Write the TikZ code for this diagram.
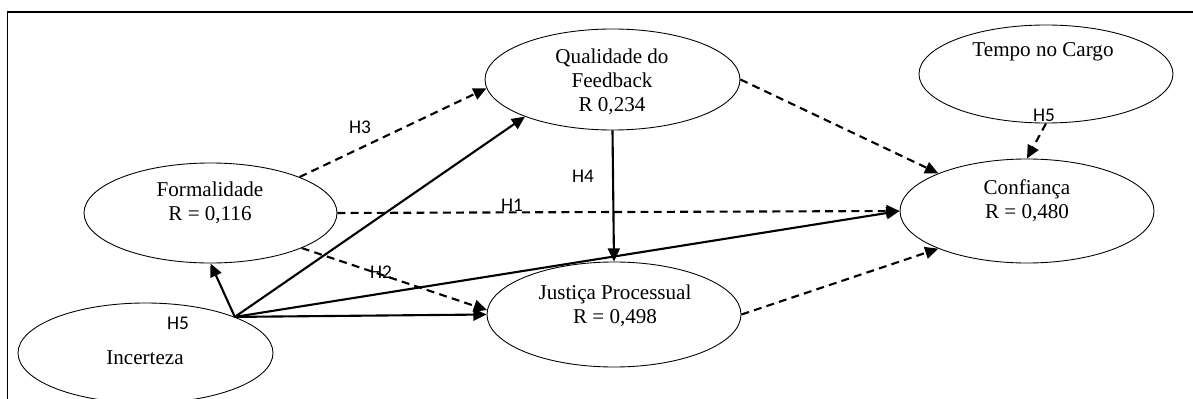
\documentclass[tikz,border=0pt]{standalone}
\usepackage{fontspec}
\setmainfont{Liberation Serif}
\newfontfamily\hypfont{Carlito}
\usetikzlibrary{arrows.meta,shapes,positioning,calc}

\begin{document}
\begin{tikzpicture}[
    construct/.style={ellipse, draw, line width=0.5pt, minimum width=5.08cm,
                      minimum height=2cm, inner sep=0pt},
    ctext/.style={align=center, inner sep=0pt, font=\fontsize{12}{13.6}\selectfont},
    hyp/.style={inner sep=0pt, font=\hypfont\fontsize{11}{13}\selectfont},
    link/.style={-{Triangle[length=7.5pt, width=6.8pt]}, line width=1.2pt},
    dlink/.style={link, dash pattern=on 4.5pt off 3pt}
]
    \useasboundingbox (0,0) rectangle (23.86,7.96);
    \clip (0,0) rectangle (23.86,7.96);

    % Frame
    \draw[line width=1pt] (0.15,-0.5) -- (0.15,7.72) -- (24.5,7.72);

    % Constructs
    \node[construct, minimum width=5.1cm, minimum height=2.02cm] (qual) at (12.25, 6.37) {};
    \node[construct, minimum height=1.96cm] (tempo) at (20.92, 6.48) {};
    \node[construct, minimum width=5.06cm] (form) at (4.21, 3.70) {};
    \node[construct, minimum width=5.1cm] (inc) at (2.91, 0.90) {};
    \node[construct, minimum height=2.1cm] (just) at (12.28, 1.67) {};
    \node[construct, minimum height=2.08cm] (conf) at (20.54, 3.74) {};

    % Texts
    \node[ctext] (qualtxt) at (12.24, 6.32) {Qualidade do\\Feedback\\R 0,234};
    \node[ctext] (tempotxt) at (20.86, 6.92) {Tempo no Cargo};
    \node[ctext] (formtxt) at (4.2, 3.9) {Formalidade\\R = 0,116};
    \node[ctext] (inctxt) at (2.9, 0.8) {Incerteza};
    \node[ctext] (justtxt) at (12.3, 1.85) {Justiça Processual\\R = 0,498};
    \node[ctext] (conftxt) at (20.54, 3.95) {Confiança\\R = 0,480};

    % Paths
    \coordinate (hub) at (inc.22);
    \draw[dlink] (form.22) -- (qual.184);
    \draw[dlink] (form.east) -- (conf.west);
    \draw[dlink] (form.-21) -- (just.178);
    \draw[dlink] (qual.east) -- (conf.157);
    \draw[dlink] (tempo.south) -- (conf.north);
    \draw[dlink] (just.east) -- (conf.-157);
    \draw[link] (qual.south) -- (just.north);
    \draw[link] (hub) -- (form.south);
    \draw[link] (hub) -- (qual.203);
    \draw[link] (hub) -- (just.west);
    \draw[link] (hub) -- (conf.west);

    % Hypotheses
    \node[hyp] (h3) at (7.2, 5.42) {H3};
    \node[hyp] (h4) at (11.66, 4.44) {H4};
    \node[hyp] (h1) at (10.24, 3.86) {H1};
    \node[hyp] (h2) at (7.62, 2.52) {H2};
    \node[hyp] (h5a) at (3.56, 1.5) {H5};
    \node[hyp] (h5b) at (20.88, 5.66) {H5};
\end{tikzpicture}
\end{document}
